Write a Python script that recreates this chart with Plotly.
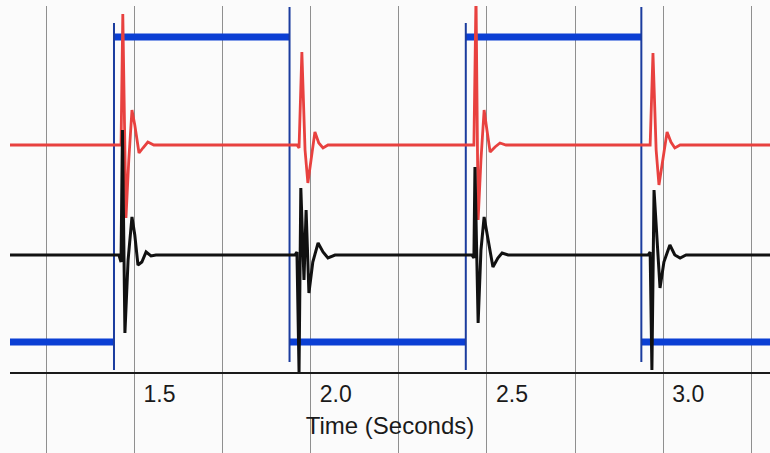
import plotly.graph_objects as go

# ---------------- data (time in seconds, signal in arbitrary units) ----------------
# Blue square-wave (stimulus): constant levels between transitions
blue_level_start = [1.147, 1.442, 1.940, 2.440, 2.938]
blue_level_end = [1.442, 1.940, 2.440, 2.938, 3.303]
blue_level_val = [3.1, 33.6, 3.1, 33.6, 3.1]
# Blue transitions (thin vertical edges)
blue_edge_t = [1.442, 1.940, 2.440, 2.938]
blue_edge_lo = [0.3, 1.1, 0.3, 1.1]
blue_edge_hi = [35.0, 36.6, 35.0, 36.6]

# Red sensor trace
red_t = [1.147,
         1.462, 1.467, 1.476, 1.484, 1.493, 1.501, 1.513, 1.524, 1.538, 1.555,
         1.961, 1.967, 1.975, 1.984, 1.992, 2.001, 2.012, 2.023, 2.035, 2.049,
         2.463, 2.469, 2.475, 2.483, 2.492, 2.500, 2.509, 2.523, 2.537, 2.554,
         2.963, 2.971, 2.980, 2.988, 2.997, 3.011, 3.022, 3.033, 3.048,
         3.303]
red_v = [22.8,
         22.8, 35.9, 15.5, 21.3, 26.3, 24.8, 22.0, 22.5, 23.1, 22.8,
         22.8, 22.5, 32.1, 22.3, 19.0, 21.3, 24.1, 23.0, 22.5, 22.8,
         22.8, 37.8, 15.3, 21.3, 26.3, 24.3, 22.1, 22.6, 23.0, 22.8,
         22.8, 32.0, 22.3, 18.8, 20.8, 24.1, 23.1, 22.5, 22.8,
         22.8]

# Black sensor trace
black_t = [1.147,
           1.456, 1.462, 1.466, 1.473, 1.482, 1.493, 1.501, 1.510, 1.521, 1.533, 1.547, 1.561,
           1.955, 1.961, 1.967, 1.972, 1.981, 1.987, 1.995, 2.006, 2.021, 2.035, 2.049, 2.069,
           2.457, 2.463, 2.466, 2.475, 2.483, 2.492, 2.503, 2.517, 2.531, 2.543, 2.560,
           2.957, 2.963, 2.968, 2.974, 2.982, 2.991, 3.002, 3.019, 3.033, 3.048, 3.065,
           3.303]
black_v = [11.8,
           11.8, 11.1, 24.3, 4.0, 11.3, 15.6, 13.8, 10.8, 11.1, 12.1, 11.7, 11.8,
           11.8, 12.1, 0.1, 18.5, 9.3, 16.3, 8.0, 11.1, 13.0, 12.1, 11.5, 11.8,
           11.8, 11.5, 20.6, 5.0, 12.3, 15.6, 13.3, 10.6, 11.5, 12.0, 11.8,
           11.8, 12.1, 0.3, 18.3, 13.3, 8.5, 11.1, 12.8, 11.8, 11.5, 11.8,
           11.8]

# Axis ticks
grid_vals = [1.25, 1.5, 1.75, 2.0, 2.25, 2.5, 2.75, 3.0, 3.25]
tick_text = ["", "1.5", "", "2.0", "", "2.5", "", "3.0", ""]
x_range = [1.147, 3.303]
y_range = [-8.0, 36.7]

# ---------------- build segments ----------------
lvl_x, lvl_y = [], []
for s, e, v in zip(blue_level_start, blue_level_end, blue_level_val):
    lvl_x += [s, e, None]
    lvl_y += [v, v, None]

edge_x, edge_y = [], []
for t, lo, hi in zip(blue_edge_t, blue_edge_lo, blue_edge_hi):
    edge_x += [t, t, None]
    edge_y += [lo, hi, None]

fig = go.Figure()
fig.add_trace(go.Scatter(x=lvl_x, y=lvl_y, mode="lines",
                         line=dict(color="#0b3fd4", width=7), hoverinfo="skip"))
fig.add_trace(go.Scatter(x=edge_x, y=edge_y, mode="lines",
                         line=dict(color="#1b3c9e", width=2), hoverinfo="skip"))
fig.add_trace(go.Scatter(x=red_t, y=red_v, mode="lines",
                         line=dict(color="#e8413f", width=2.8), hoverinfo="skip"))
fig.add_trace(go.Scatter(x=black_t, y=black_v, mode="lines",
                         line=dict(color="#111111", width=3), hoverinfo="skip"))

fig.update_layout(
    width=770, height=453,
    margin=dict(l=10, r=0, t=6, b=0),
    paper_bgcolor="#fbfbfb", plot_bgcolor="#fbfbfb",
    showlegend=False,
    font=dict(family="Liberation Sans, Arial, sans-serif", color="#1a1a1a"),
    xaxis=dict(
        range=x_range, anchor="free", position=0.179,
        showline=True, linecolor="#1a1a1a", linewidth=2,
        showgrid=True, gridcolor="#8f8f8f", gridwidth=1, zeroline=False,
        tickmode="array", tickvals=grid_vals, ticktext=tick_text,
        ticks="", ticklabelshift=25, ticklabelstandoff=0,
        tickfont=dict(size=23, color="#1a1a1a"),
        title=dict(text="Time (Seconds)", font=dict(size=24, color="#1a1a1a"), standoff=11),
    ),
    yaxis=dict(range=y_range, visible=False, showgrid=False, zeroline=False),
)

fig.write_html("out.html")
